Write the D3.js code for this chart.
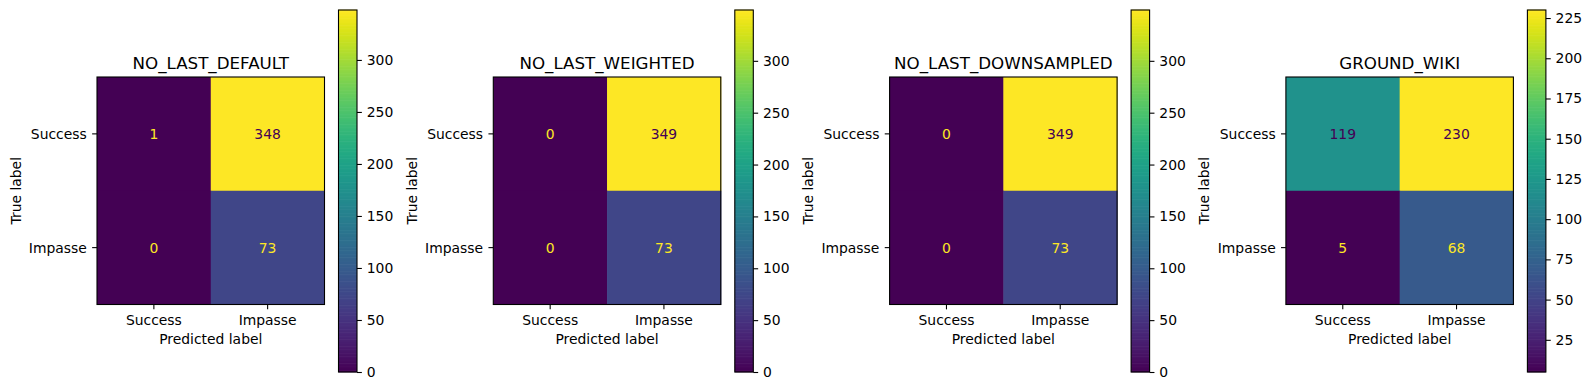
<!DOCTYPE html>
<html>
<head>
<meta charset="utf-8">
<script src="https://cdn.jsdelivr.net/npm/d3@7"></script>
<style>
  html, body { margin: 0; padding: 0; background: #fff; }
  svg text { font-family: "DejaVu Sans", sans-serif; fill: #000; }
</style>
</head>
<body>
<svg id="chart" width="1590" height="390"></svg>
<script>
// ---- data ----
const categories = ["Success", "Impasse"];
const titles = ["NO_LAST_DEFAULT", "NO_LAST_WEIGHTED", "NO_LAST_DOWNSAMPLED", "GROUND_WIKI"];
const matrixDefault = [[1, 348], [0, 73]];
const matrixWeighted = [[0, 349], [0, 73]];
const matrixDownsampled = [[0, 349], [0, 73]];
const matrixGroundWiki = [[119, 230], [5, 68]];
const matrices = [matrixDefault, matrixWeighted, matrixDownsampled, matrixGroundWiki];
const colorbarTicks0 = [0, 50, 100, 150, 200, 250, 300];
const colorbarTicks3 = [25, 50, 75, 100, 125, 150, 175, 200, 225];
const colorbarTicks = [colorbarTicks0, colorbarTicks0, colorbarTicks0, colorbarTicks3];

// ---- layout ----
const panelStep = 396.3;
const heatX0 = 97, heatY0 = 77, heatSize = 227.5;
const cbX0 = 338.5, cbW = 18.5, cbTop = 10, cbBottom = 372;
const tickLen = 4.86, tickPad = 4.86;
const fs = 13.9, titleFs = 16.7;
const ylabelOffset = 76.5;

const svg = d3.select("#chart");

matrices.forEach((m, p) => {
  const flat = m.flat();
  const vmin = d3.min(flat), vmax = d3.max(flat);
  const color = d3.scaleSequential(d3.interpolateViridis).domain([vmin, vmax]);
  const thresh = (vmin + vmax) / 2;

  const hx = heatX0 + p * panelStep;
  const g = svg.append("g").attr("transform", `translate(${hx},${heatY0})`);

  const x = d3.scaleBand().domain(categories).range([0, heatSize]);
  const y = d3.scaleBand().domain(categories).range([0, heatSize]);

  // cells
  categories.forEach((rowCat, i) => {
    categories.forEach((colCat, j) => {
      const v = m[i][j];
      g.append("rect")
        .attr("x", x(colCat)).attr("y", y(rowCat))
        .attr("width", x.bandwidth() + 0.5).attr("height", y.bandwidth() + 0.5)
        .attr("fill", color(v));
      g.append("text")
        .attr("x", x(colCat) + x.bandwidth() / 2)
        .attr("y", y(rowCat) + y.bandwidth() / 2 + 5)
        .attr("text-anchor", "middle")
        .attr("font-size", fs)
        .style("fill", v < thresh ? d3.interpolateViridis(1) : d3.interpolateViridis(0))
        .text(v);
    });
  });

  // frame
  g.append("rect").attr("x", 0).attr("y", 0).attr("width", heatSize).attr("height", heatSize)
    .attr("fill", "none").attr("stroke", "#000").attr("stroke-width", 1.1);

  // x axis
  categories.forEach(c => {
    const cx = x(c) + x.bandwidth() / 2;
    g.append("line").attr("x1", cx).attr("x2", cx).attr("y1", heatSize).attr("y2", heatSize + tickLen)
      .attr("stroke", "#000").attr("stroke-width", 1.1);
    g.append("text").attr("x", cx).attr("y", 325 - heatY0)
      .attr("text-anchor", "middle").attr("font-size", fs).text(c);
  });
  g.append("text").attr("x", heatSize / 2).attr("y", 343.5 - heatY0)
    .attr("text-anchor", "middle").attr("font-size", fs).text("Predicted label");

  // y axis
  categories.forEach(c => {
    const cy = y(c) + y.bandwidth() / 2;
    g.append("line").attr("x1", -tickLen).attr("x2", 0).attr("y1", cy).attr("y2", cy)
      .attr("stroke", "#000").attr("stroke-width", 1.1);
    g.append("text").attr("x", -tickLen - tickPad - 0.5).attr("y", cy + 5)
      .attr("text-anchor", "end").attr("font-size", fs).text(c);
  });
  g.append("text")
    .attr("transform", `translate(${-ylabelOffset},${heatSize / 2}) rotate(-90)`)
    .attr("text-anchor", "middle").attr("font-size", fs).text("True label");

  // title
  g.append("text").attr("x", heatSize / 2).attr("y", 68.5 - heatY0)
    .attr("text-anchor", "middle").attr("font-size", titleFs).text(titles[p]);

  // colorbar
  const cbx = cbX0 + p * panelStep;
  const cbScale = d3.scaleLinear().domain([vmin, vmax]).range([cbBottom, cbTop]);
  const cb = svg.append("g");
  const nSteps = 256;
  const stepVals = d3.range(nSteps).map(k => vmin + (vmax - vmin) * k / nSteps);
  const stepH = (vmax - vmin) / nSteps;
  cb.selectAll("rect.step").data(stepVals).join("rect")
    .attr("class", "step")
    .attr("x", cbx).attr("width", cbW)
    .attr("y", d => cbScale(d + stepH) - 0.3)
    .attr("height", d => cbScale(d) - cbScale(d + stepH) + 0.6)
    .attr("fill", d => color(d + stepH / 2));
  cb.append("rect").attr("x", cbx).attr("y", cbTop).attr("width", cbW).attr("height", cbBottom - cbTop)
    .attr("fill", "none").attr("stroke", "#000").attr("stroke-width", 1.1);
  const axis = d3.axisRight(cbScale).tickValues(colorbarTicks[p]).tickSize(tickLen).tickPadding(tickPad);
  const ax = cb.append("g").attr("transform", `translate(${cbx + cbW},0)`).call(axis);
  ax.select(".domain").remove();
  ax.selectAll("line").attr("stroke", "#000").attr("stroke-width", 1.1);
  ax.selectAll("text").attr("font-size", fs).attr("font-family", "DejaVu Sans").style("fill", "#000");
});
</script>
</body>
</html>
